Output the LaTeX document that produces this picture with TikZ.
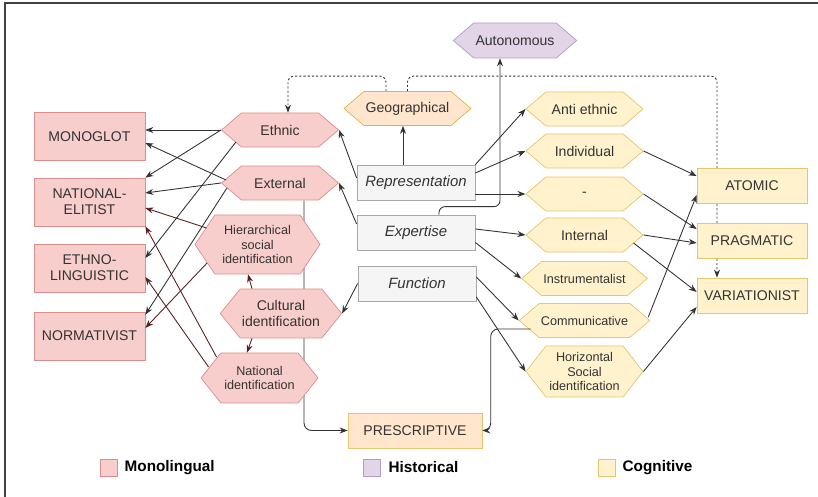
\documentclass[tikz,border=0pt]{standalone}
\usepackage{fontspec}
\setmainfont{Liberation Sans}
\usetikzlibrary{arrows.meta, positioning, shapes.symbols, backgrounds}
\definecolor{monofill}{HTML}{F8CECC}
\definecolor{monodraw}{HTML}{D98E8B}
\definecolor{histfill}{HTML}{E1D5E7}
\definecolor{histdraw}{HTML}{B49AC4}
\definecolor{cogfill}{HTML}{FFF2CC}
\definecolor{cogdraw}{HTML}{E3C66F}
\definecolor{geofill}{HTML}{FFE6CC}
\definecolor{geodraw}{HTML}{E5B04A}
\definecolor{viewfill}{HTML}{F5F5F5}
\definecolor{viewdraw}{HTML}{A8A8A8}
\definecolor{inktext}{HTML}{333333}
\definecolor{linkred}{HTML}{5C1F1F}

\begin{document}
\begin{tikzpicture}[
    font=\fontsize{8}{9}\selectfont, text=inktext,
    box/.style={draw, minimum width=2.22cm, minimum height=0.96cm, align=center, inner sep=1pt},
    hexa/.style={signal, signal to=west and east, signal pointer angle=81, draw, minimum width=2.34cm, minimum height=0.68cm, align=center, inner sep=1pt},
    monohex/.style={hexa, fill=monofill, draw=monodraw},
    coghex/.style={hexa, fill=cogfill, draw=cogdraw},
    viewbox/.style={draw=viewdraw, fill=viewfill, minimum width=2.36cm, minimum height=0.70cm, font=\fontsize{8.5}{10}\selectfont\itshape},
    small/.style={font=\fontsize{7.2}{8.5}\selectfont},
    legsq/.style={draw, minimum size=0.34cm, inner sep=0pt},
    legtxt/.style={font=\fontsize{8.7}{10}\selectfont\bfseries, text=black, inner sep=0pt},
    arrow/.style={-{Stealth[length=1.6mm, width=1.2mm]}, draw=inktext, line width=0.5pt},
    redarrow/.style={arrow, draw=linkred},
    dotarrow/.style={arrow, dash pattern=on 1.2pt off 1.2pt},
]
    \useasboundingbox (0,0) rectangle (16.36,9.94);
    \draw[line width=0.8pt, draw=black!75] (0.10,0) -- (0.10,9.88) -- (16.36,9.88);

    % Monolingual boxes
    \node[box, fill=monofill, draw=monodraw] (monoglot) at (1.79,7.21) {MONOGLOT};
    \node[box, fill=monofill, draw=monodraw] (natelit) at (1.79,5.90) {NATIONAL-\\ELITIST};
    \node[box, fill=monofill, draw=monodraw] (ethnoling) at (1.79,4.58) {ETHNO-\\LINGUISTIC};
    \node[box, fill=monofill, draw=monodraw] (normativ) at (1.79,3.22) {NORMATIVIST};

    \node[monohex] (ethnic) at (5.60,7.34) {Ethnic};
    \node[monohex] (external) at (5.60,6.28) {External};
    \node[monohex, small, minimum width=2.5cm, minimum height=1.18cm, signal pointer angle=112] (hiersoc) at (5.15,5.05) {Hierarchical\\social\\identification};
    \node[monohex, minimum width=2.32cm, minimum height=0.98cm, signal pointer angle=102] (cultural) at (5.62,3.67) {Cultural\\identification};
    \node[monohex, small, minimum height=1.0cm, signal pointer angle=103] (national) at (5.19,2.38) {National\\identification};

    % Centre
    \node[viewbox] (represent) at (8.32,6.29) {Representation};
    \node[viewbox] (expertise) at (8.32,5.29) {Expertise};
    \node[viewbox] (function) at (8.34,4.27) {Function};
    \node[hexa, fill=geofill, draw=geodraw] (geograph) at (8.15,7.77) {Geographical};
    \node[hexa, fill=histfill, draw=histdraw, minimum width=2.36cm, minimum height=0.70cm] (autonom) at (10.30,9.13) {Autonomous};
    \node[box, fill=geofill, draw=cogdraw, minimum width=2.68cm, minimum height=0.70cm] (prescript) at (8.30,1.33) {PRESCRIPTIVE};

    % Cognitive
    \node[coghex] (antiethnic) at (11.69,7.76) {Anti ethnic};
    \node[coghex] (individual) at (11.69,6.92) {Individual};
    \node[coghex] (blankhex) at (11.69,6.06) {-};
    \node[coghex] (internal) at (11.69,5.24) {Internal};
    \node[coghex, small] (instrument) at (11.69,4.37) {Instrumentalist};
    \node[coghex, small] (communic) at (11.69,3.53) {Communicative};
    \node[coghex, small, minimum height=1.02cm, signal pointer angle=104] (horizsoc) at (11.69,2.51) {Horizontal\\Social\\identification};

    \node[box, fill=cogfill, draw=cogdraw, minimum width=2.2cm, minimum height=0.70cm] (atomic) at (15.04,6.23) {ATOMIC};
    \node[box, fill=cogfill, draw=cogdraw, minimum width=2.2cm, minimum height=0.70cm] (pragmatic) at (15.04,5.13) {PRAGMATIC};
    \node[box, fill=cogfill, draw=cogdraw, minimum width=2.2cm, minimum height=0.70cm] (variation) at (15.04,4.03) {VARIATIONIST};

    % Legend
    \node[legsq, fill=monofill, draw=monodraw] (sqmono) at (2.17,0.59) {};
    \node[legtxt, right=0.14cm of sqmono] (legmono) {Monolingual};
    \node[legsq, fill=histfill, draw=histdraw] (sqhist) at (7.43,0.59) {};
    \node[legtxt, right=0.16cm of sqhist] (leghist) {Historical};
    \node[legsq, fill=cogfill, draw=cogdraw] (sqcog) at (12.13,0.59) {};
    \node[legtxt, right=0.14cm of sqcog] (legcog) {Cognitive};

    % Lines under the nodes
    \begin{scope}[on background layer]
    \draw[arrow, rounded corners=0.15cm] ([xshift=0.48cm]external.south) |- (prescript.west);
    \draw[dotarrow, rounded corners=0.12cm] (geograph.north) -- ++(0,0.3) -| ([xshift=-0.7cm]variation.north);
    \end{scope}
    \draw[dotarrow, rounded corners=0.12cm] ([xshift=-0.43cm]geograph.north) -- ++(0,0.3) -| ([xshift=0.16cm]ethnic.north);

    % Arrows to the left
    \draw[arrow] (ethnic.west) -- (ethnic.west -| monoglot.east);
    \draw[arrow] ([xshift=0.1cm,yshift=0.06cm]external.west) -- ([yshift=-0.13cm]monoglot.east);
    \draw[arrow] (ethnic.west) -- (natelit.north east);
    \draw[arrow] (external.west) -- ([yshift=0.18cm]natelit.east);
    \draw[redarrow] ([xshift=0.24cm,yshift=0.33cm]hiersoc.west) -- ([yshift=-0.12cm]natelit.east);
    \draw[arrow] ([xshift=0.30cm,yshift=-0.24cm]ethnic.west) -- ([yshift=0.2cm]ethnoling.east);
    \draw[arrow] ([xshift=0.12cm,yshift=-0.1cm]external.west) -- ([yshift=-0.06cm]normativ.north east);
    \draw[redarrow] ([xshift=0.25cm,yshift=-0.37cm]hiersoc.west) -- ([yshift=0.16cm]normativ.east);
    \draw[redarrow] ([xshift=0.32cm,yshift=0.42cm]national.west) -- (natelit.south east);
    \draw[redarrow] ([xshift=0.16cm,yshift=0.22cm]national.west) -- ([yshift=-0.18cm]ethnoling.east);
    \draw[redarrow] ([xshift=-0.58cm]cultural.north) -- ([xshift=-0.19cm]hiersoc.south);
    \draw[redarrow] ([xshift=-0.58cm]cultural.south) -- ([xshift=-0.25cm]national.north);
    \draw[arrow] ([yshift=0.09cm]represent.west) -- (ethnic.east);
    \draw[arrow] ([yshift=0.17cm]expertise.west) -- (external.east);
    \draw[arrow] (function.west) -- (cultural.east);

    % Arrows up and down
    \draw[arrow] ([xshift=-0.26cm]represent.north) -- ([xshift=-0.26cm]represent.north |- geograph.south);
    \draw[arrow, rounded corners=0.12cm] ([xshift=0.46cm]expertise.north) -- ++(0,0.16) -| ([xshift=-0.3cm]autonom.south);
    \draw[arrow, rounded corners=0.15cm] ([xshift=0.24cm,yshift=-0.17cm]communic.west) -- ++(-0.8,0) |- (prescript.east);

    % Arrows to the right
    \draw[arrow] (represent.north east) -- (antiethnic.west);
    \draw[arrow] ([yshift=0.19cm]represent.east) -- (individual.west);
    \draw[arrow] ([yshift=-0.23cm]represent.east) -- (blankhex.west);
    \draw[arrow] ([yshift=0.07cm]expertise.east) -- (internal.west);
    \draw[arrow] ([yshift=-0.2cm]expertise.east) -- (instrument.west);
    \draw[arrow] ([yshift=0.13cm]function.east) -- (communic.west);
    \draw[arrow] ([yshift=-0.27cm]function.east) -- (horizsoc.west);
    \draw[arrow] (individual.east) -- ([yshift=0.19cm]atomic.west);
    \draw[arrow] (blankhex.east) -- ([yshift=0.23cm]pragmatic.west);
    \draw[arrow] (internal.east) -- ([yshift=-0.05cm]pragmatic.west);
    \draw[arrow] ([xshift=-0.2cm,yshift=-0.16cm]internal.east) -- ([yshift=0.07cm]variation.west);
    \draw[arrow] (horizsoc.east) -- ([yshift=-0.23cm]variation.west);
    \draw[arrow] ([xshift=-0.04cm,yshift=0.07cm]communic.east) -- ([yshift=-0.19cm]atomic.west);

\end{tikzpicture}
\end{document}
